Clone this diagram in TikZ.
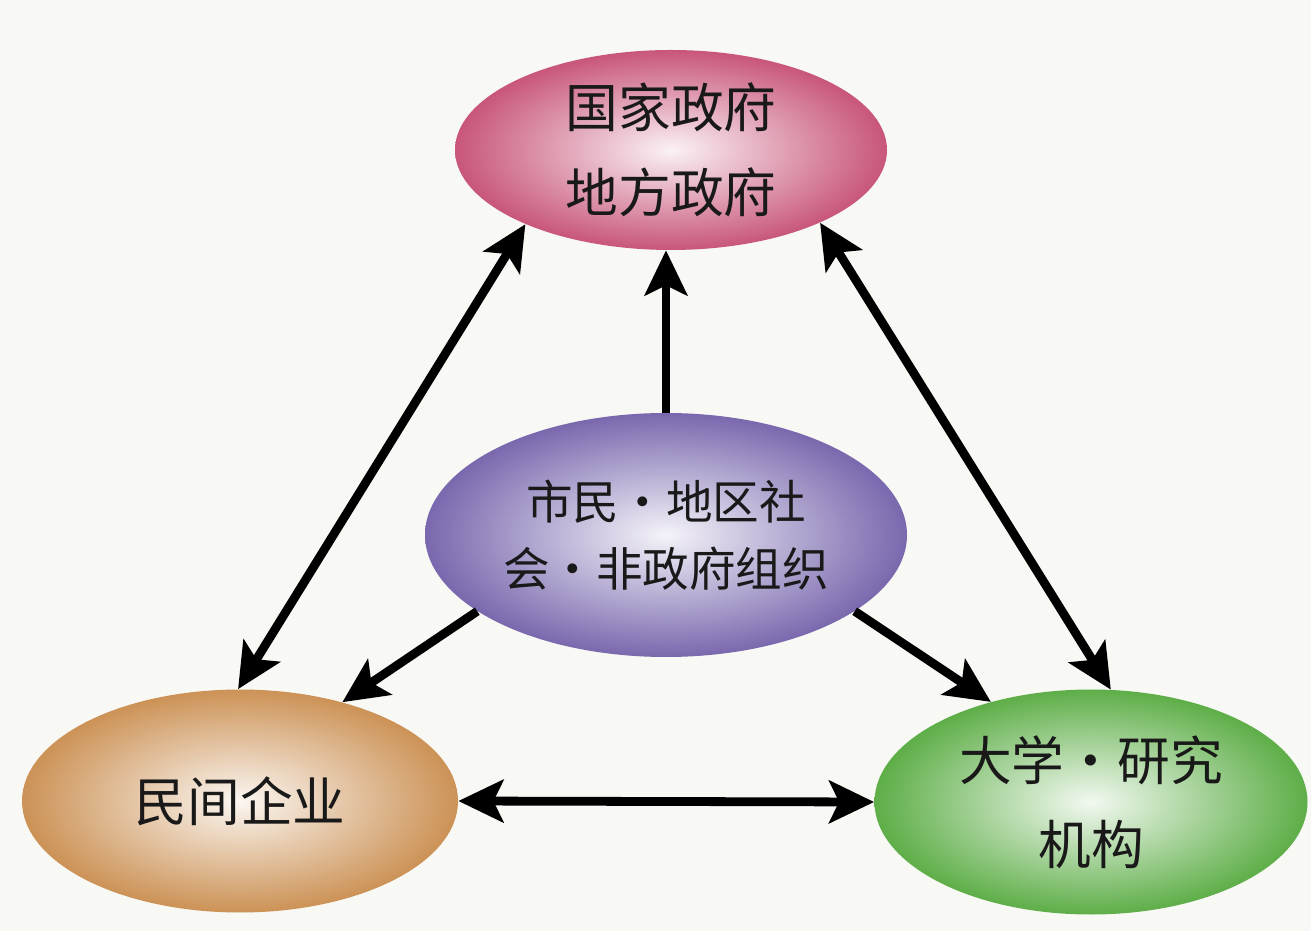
\documentclass[tikz,border=0pt]{standalone}
\usepackage{fontspec}
\newfontfamily\cjk{Noto Sans CJK SC}
\usepackage{tikz}
\usetikzlibrary{positioning, arrows.meta, shapes.geometric}
\definecolor{govred}{RGB}{200,86,122}
\definecolor{civpurple}{RGB}{122,104,174}
\definecolor{enttan}{RGB}{204,146,86}
\definecolor{unigreen}{RGB}{94,174,72}
\definecolor{paper}{RGB}{248,248,245}

\begin{document}
\begin{tikzpicture}
[blob/.style={ellipse, inner sep=0pt, shading=radial, align=center, text=black!90},
 big/.style={font=\cjk\fontsize{30}{48}\selectfont},
 mid/.style={font=\cjk\fontsize{26.5}{38}\selectfont},
 ->/.style={line width=5pt, arrows={-Stealth[length=0.9cm, width=0.85cm, inset=0.2cm]}},
 <->/.style={line width=5pt, arrows={Stealth[length=0.9cm, width=0.85cm, inset=0.2cm]-Stealth[length=0.9cm, width=0.85cm, inset=0.2cm]}}]
\fill[paper] (0,0) rectangle (26.22,18.62);
\useasboundingbox (0,0) rectangle (26.22,18.62);
\node[blob, big, outer color=govred, inner color=govred!8!white, minimum width=8.64cm, minimum height=4cm] (gov) at (13.42, 15.62) {国家政府\\地方政府}; % top
\node[blob, mid, outer color=civpurple, inner color=civpurple!8!white, minimum width=9.64cm, minimum height=4.88cm] (civ) at (13.32, 7.92) {市民・地区社\\会・非政府组织}; % centre
\node[blob, big, outer color=enttan, inner color=enttan!8!white, minimum width=8.72cm, minimum height=4.46cm] (ent) at (4.8, 2.6) {民间企业}; % left
\node[blob, big, outer color=unigreen, inner color=unigreen!8!white, minimum width=8.66cm, minimum height=4.5cm] (uni) at (21.82, 2.58) {大学・研究\\机构}; % right
\draw[<->] (ent.91) -- (gov.207);
\draw[<->] (uni.80) -- (gov.334);
\draw[<->] (ent.east) -- (uni.west);
\draw[->] (civ.north) -- (civ.north |- gov.south);
\draw[->] (civ.202) -- (ent.44);
\draw[->] (civ.338) -- (uni.135);
\end{tikzpicture}
\end{document}
